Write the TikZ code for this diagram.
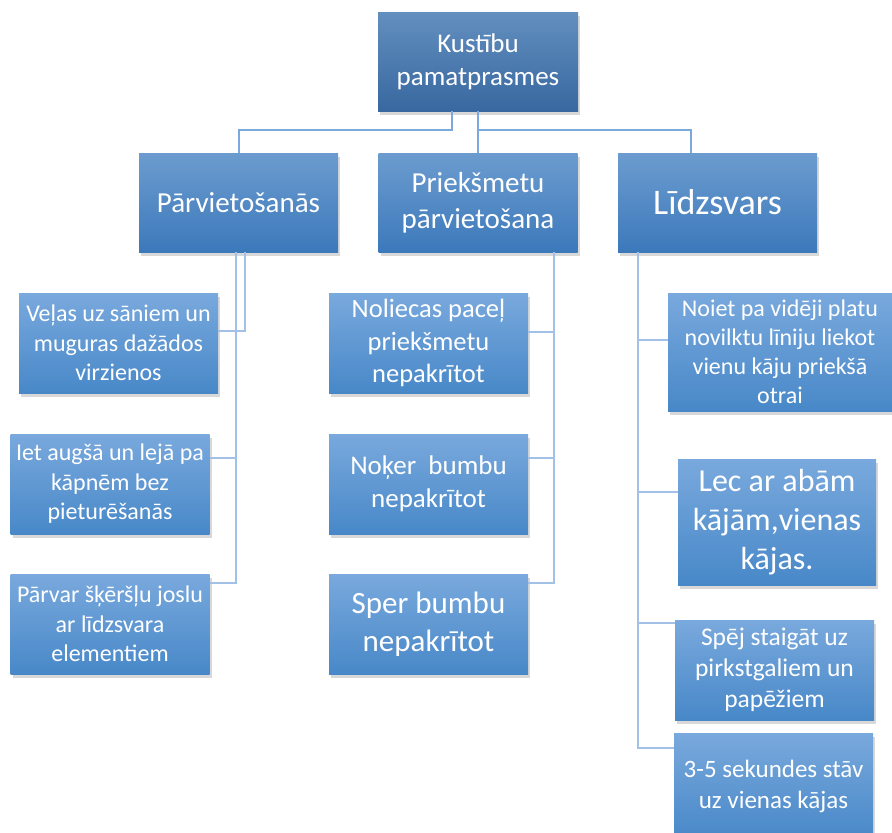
\documentclass[tikz,border=0pt]{standalone}
\usepackage{fontspec}
\setmainfont{Carlito}
\usetikzlibrary{shadows}

\definecolor{topupper}{RGB}{99,143,191}
\definecolor{toplower}{RGB}{56,104,160}
\definecolor{mainupper}{RGB}{108,156,207}
\definecolor{mainlower}{RGB}{60,121,187}
\definecolor{leafupper}{RGB}{121,169,221}
\definecolor{leafmid}{RGB}{91,155,219}
\definecolor{leaflower}{RGB}{72,136,200}
\definecolor{linkdark}{RGB}{124,168,222}
\definecolor{linklight}{RGB}{163,193,230}

\tikzset{
  box/.style={rectangle, inner sep=2pt, align=center, text=white,
    drop shadow={shadow xshift=2pt, shadow yshift=-4pt, opacity=0.3}},
  topbox/.style={box, minimum width=200pt, minimum height=99pt,
    top color=topupper, bottom color=toplower,
    font=\fontsize{27}{33}\selectfont},
  mainbox/.style={box, minimum width=199pt, minimum height=99pt,
    top color=mainupper, bottom color=mainlower,
    font=\fontsize{29}{36}\selectfont},
  leafbox/.style={box, minimum width=199pt, minimum height=100pt,
    top color=leafupper, middle color=leafmid, bottom color=leaflower},
  link/.style={draw=linkdark, line width=2pt},
  sublink/.style={draw=linklight, line width=2pt},
}

\begin{document}
\begin{tikzpicture}[x=1pt,y=-1pt]
\path[use as bounding box, fill=white] (0,0) rectangle (892,833);

% top and main level
\node[topbox] (top) at (478,61.5) {Kustību\\pamatprasmes};
\node[mainbox] (pv) at (238.5,202.5) {Pārvietošanās};
\node[mainbox] (pk) at (478,202.5) {Priekšmetu\\pārvietošana};
\node[mainbox, font=\fontsize{36}{42}\selectfont] (lz) at (717.5,202.5) {Līdzsvars};

% left column
\node[leafbox, font=\fontsize{24}{29.5}\selectfont] (v1) at (118.5,343) {Veļas uz sāniem un\\muguras dažādos\\virzienos};
\node[leafbox, font=\fontsize{24}{29.5}\selectfont] (v2) at (110,484) {Iet augšā un lejā pa\\kāpnēm bez\\pieturēšanās};
\node[leafbox, font=\fontsize{24}{29.5}\selectfont] (v3) at (110,624) {Pārvar šķēršļu joslu\\ar līdzsvara\\elementiem};

% middle column
\node[leafbox, font=\fontsize{26.5}{32.5}\selectfont] (m1) at (428.5,343) {Noliecas paceļ\\priekšmetu\\nepakrītot};
\node[leafbox, font=\fontsize{27}{33}\selectfont] (m2) at (428.5,484) {Noķer~ bumbu\\nepakrītot};
\node[leafbox, font=\fontsize{31}{38}\selectfont] (m3) at (428.5,624) {Sper bumbu\\nepakrītot};

% right column
\node[leafbox, minimum width=224pt, minimum height=118pt, font=\fontsize{24}{29}\selectfont] (r1) at (780,352) {Noiet pa vidēji platu\\novilktu līniju liekot\\vienu kāju priekšā\\otrai};
\node[leafbox, minimum width=198pt, minimum height=126pt, font=\fontsize{32}{39}\selectfont] (r2) at (777,522) {Lec ar abām\\kājām,vienas\\kājas.};
\node[leafbox, font=\fontsize{25.5}{31}\selectfont] (r3) at (774.5,670) {Spēj staigāt uz\\pirkstgaliem un\\papēžiem};
\node[leafbox, minimum height=106pt, font=\fontsize{25}{31}\selectfont] (r4) at (773.5,786) {3-5 sekundes stāv\\uz vienas kājas};

% connectors from the top box
\draw[link] (452,0 |- top.south) -- (452,130) -| (pv.north);
\draw[link] (top.south) -- (pk.north);
\draw[link] (top.south |- 0,130) -| (691,0 |- lz.north);

% connectors to the leaves
\draw[sublink] (245,0 |- pv.south) |- (v1.east |- 0,331);
\draw[sublink] (236,0 |- pv.south) |- (v3.east |- 0,583);
\draw[sublink] (236,458) -- (v2.east |- 0,458);
\draw[sublink] (554,0 |- pk.south) |- (m3.east |- 0,583);
\draw[sublink] (554,332) -- (m1.east |- 0,332);
\draw[sublink] (554,458) -- (m2.east |- 0,458);
\draw[sublink] (638,0 |- lz.south) |- (r4.west |- 0,748);
\draw[sublink] (638,340) -- (r1.west |- 0,340);
\draw[sublink] (638,492) -- (r2.west |- 0,492);
\draw[sublink] (638,623) -- (r3.west |- 0,623);
\end{tikzpicture}
\end{document}
